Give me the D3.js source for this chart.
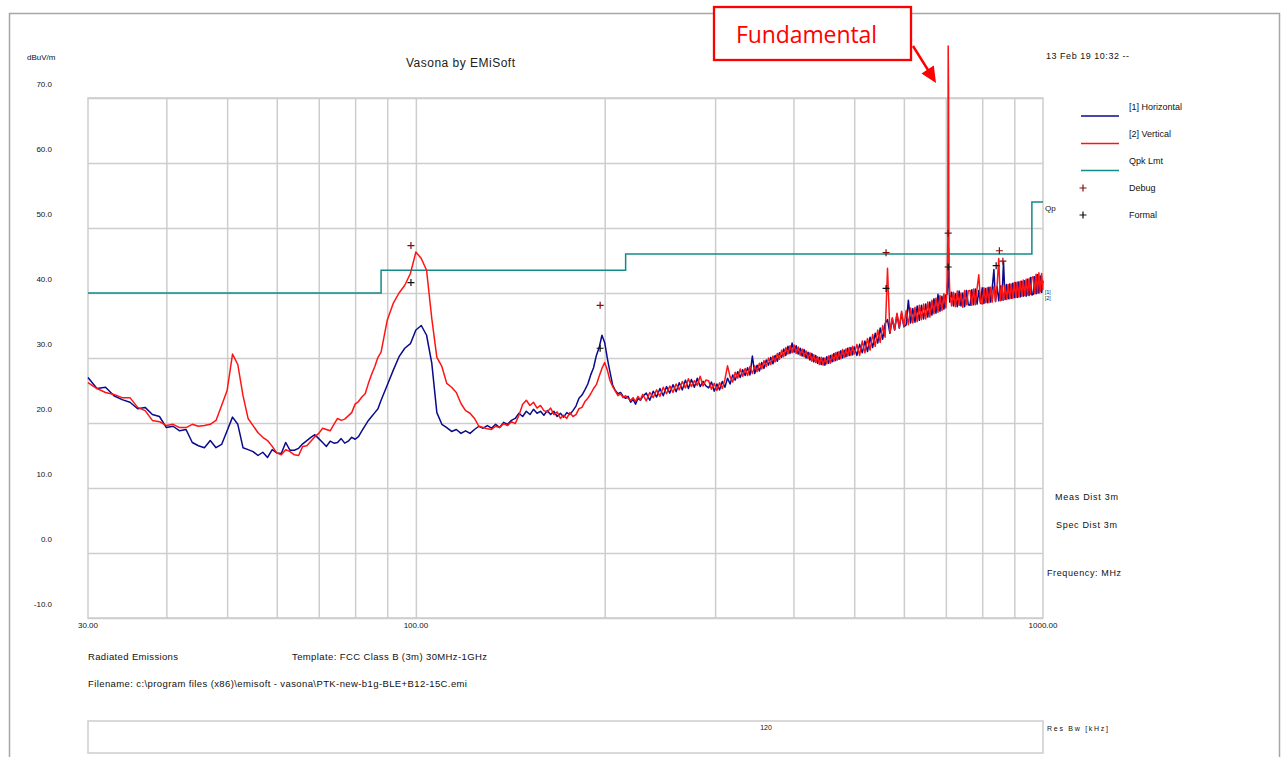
<!DOCTYPE html>
<html><head><meta charset="utf-8">
<script src="https://cdn.jsdelivr.net/npm/d3@7"></script>
<style>
html,body{margin:0;padding:0;background:#fff;}
svg{display:block;font-family:"Liberation Sans",Arial,sans-serif;}
</style></head><body>
<svg id="c" width="1282" height="757"></svg>
<script>
// ---------- data ----------
const freqMHz = [
 30,31,32,33,34,35,36,37,38,39,40,41,42,43,44,45,46,47,48,49,50,51,52,53,54,55,56,57,58,59,
 60,61,62,63,64,65,66,67,68,69,70,71,72,73,74,75,76,77,78,79,80,81,82,83,84,85,86,87,88,
 90,92,94,96,98,100,102,104,106,108,110,112,114,116,118,120,122,124,126,128,130,132,134,136,138,
 140,142,144,146,148,150,152,154,156,158,160,162,164,166,168,170,172,174,176,178,180,182,184,186,188,
 190,192,194,196,198,200,202,204,206,208,210,212,214,216,218,220,222,224,226,228,230,
 233,236,239,242,245,248,251,254,257,260,263,266,269,272,275,278,281,284,287,290,
 293,296,299,302,305,308,311,314,317,320,323,326,329,332,335,338,341,344,347,350,
 353,356,359,362,365,368,371,374,377,380,383,386,389,392,395,398,401,404,407,410,
 413,416,419,422,425,428,431,434,437,440,443,446,449,452,455,458,461,464,467,470,
 473,476,479,482,485,488,491,494,497,500,
 505,510,515,520,525,530,535,540,545,550,555,560,565,570,575,580,585,590,595,600,
 605,610,615,620,625,630,635,640,645,650,655,660,665,670,675,680,685,690,695,700,
 703,705,706,707,708,710,
 715,720,725,730,735,740,745,750,755,760,765,770,775,780,785,790,795,800,805,810,
 815,820,825,830,835,840,845,850,855,860,865,870,875,880,885,890,895,900,905,910,
 915,920,925,930,935,940,945,950,955,960,965,970,975,980,985,990,995,1000
];
const horizontalDb = [
 27.0,25.3,25.5,24.2,23.6,23.2,22.2,22.4,21.3,21.0,19.3,19.5,18.8,19.0,17.0,16.5,16.2,17.3,16.2,16.7,
 18.8,20.9,19.8,16.2,15.9,15.6,15.0,15.5,14.7,15.9,15.4,15.3,17.0,15.8,15.8,16.1,16.8,17.3,17.8,18.2,
 17.6,17.0,16.4,17.2,16.9,17.0,17.6,16.9,17.2,17.8,17.5,17.9,18.8,19.6,20.4,21.0,21.6,22.2,23.5,
 25.8,28.1,30.2,31.5,32.2,34.3,35.0,33.5,29.2,21.6,19.8,19.3,18.7,19.0,18.4,18.8,18.4,19.0,19.5,19.2,
 19.6,19.2,19.8,19.3,20.1,19.8,20.4,20.7,21.5,21.0,21.8,21.3,22.1,21.5,21.8,21.2,21.9,21.3,21.8,21.0,
 21.5,20.9,21.6,21.3,21.9,22.6,23.8,24.3,25.1,26.0,27.4,28.5,30.4,31.6,33.5,32.4,29.9,27.8,25.8,25.0,
 24.5,24.7,24.1,23.8,24.1,23.2,23.6,22.9,23.8,23.5,24.1,
 24.6,23.5,24.9,24.0,25.3,24.2,25.6,24.6,25.9,24.8,26.2,25.1,26.6,25.3,26.7,25.5,26.9,25.6,26.4,25.7,
 25.4,26.3,24.9,26.0,25.1,26.4,25.5,26.9,26.0,27.4,26.6,27.9,27.0,28.2,27.3,28.5,27.4,30.3,27.6,28.9,
 28.0,29.3,28.4,29.7,28.9,30.1,29.1,30.4,29.5,30.8,30.1,31.4,30.4,31.8,30.7,32.3,30.9,31.9,30.6,31.5,
 30.3,31.3,30.0,30.9,29.7,30.7,29.4,30.4,29.2,30.1,29.0,30.0,28.9,30.2,29.2,30.4,29.4,30.7,29.6,30.9,
 29.8,31.1,30.0,31.2,30.2,31.5,30.4,31.6,30.5,31.7,
 30.4,32.1,30.8,32.6,31.0,33.2,31.6,33.8,32.3,34.6,32.9,35.3,35.9,33.8,36.0,34.3,36.7,34.6,36.9,34.8,
 35.1,38.9,35.4,37.6,35.5,38.0,35.8,38.1,36.0,38.3,36.3,38.6,36.6,39.1,36.9,39.8,37.2,39.5,37.5,39.7,
 39.8,42.0,44.0,46.8,41.0,38.6,
 40.1,38.0,39.9,37.9,40.3,38.0,40.0,37.9,40.4,38.2,38.1,40.5,38.2,40.6,38.3,40.4,38.4,40.8,38.4,40.7,
 38.5,40.9,38.6,40.8,43.6,38.7,41.0,38.8,41.1,38.9,44.8,39.0,41.3,39.1,41.4,39.2,41.5,39.3,41.6,39.3,
 41.7,39.4,41.8,39.5,41.9,39.5,42.1,39.6,42.4,39.7,39.8,42.5,39.9,42.8,40.0,42.6,40.1,41.9
];
const verticalDb = [
 26.2,25.3,24.7,24.4,23.9,23.9,22.4,21.9,20.4,20.2,19.6,19.8,19.3,19.3,19.8,19.5,19.6,19.8,20.4,22.7,
 25.0,30.6,29.0,24.2,20.7,19.6,18.5,17.8,17.3,16.4,15.4,15.1,15.9,15.6,15.1,15.0,16.4,16.5,17.2,17.9,
 18.4,19.2,19.0,18.8,19.8,20.7,20.4,20.6,21.1,21.6,22.9,23.3,24.0,24.5,26.1,27.5,28.7,30.1,30.9,
 35.8,38.4,40.0,41.2,43.0,46.3,45.3,43.5,36.1,30.1,28.7,26.1,25.5,24.7,23.0,21.9,21.5,20.7,19.5,19.3,
 19.1,19.0,19.5,19.3,19.9,19.6,20.2,19.9,21.2,22.9,23.5,22.7,23.2,22.3,22.7,21.9,21.7,22.3,21.3,21.7,
 20.7,21.2,20.7,21.6,21.0,21.3,22.2,22.4,23.3,23.8,24.5,25.3,25.9,27.2,28.4,29.3,28.1,26.5,25.6,24.9,
 24.2,24.5,23.9,24.2,23.8,23.5,23.9,23.3,24.1,23.6,24.4,
 23.4,24.7,23.9,25.1,24.1,25.5,24.5,25.7,24.7,26.0,25.1,26.4,25.4,26.8,25.6,26.5,25.8,27.2,25.7,26.6,
 26.5,25.2,26.1,25.0,26.2,25.3,26.7,28.8,27.1,26.3,27.8,26.9,28.3,27.2,28.4,27.3,28.7,27.6,28.8,27.9,
 29.2,28.3,29.6,28.7,30.0,29.0,30.3,29.4,30.7,29.8,31.2,30.2,31.6,30.6,31.9,30.8,32.0,30.7,31.7,30.4,
 31.4,30.2,31.1,29.9,30.8,29.5,30.5,29.3,30.2,29.0,30.1,28.9,30.0,29.1,30.3,29.2,30.5,29.5,30.8,29.7,
 31.0,29.9,31.3,30.1,31.4,30.3,31.6,30.4,31.8,30.6,
 32.1,30.4,32.6,30.8,33.0,31.2,33.6,31.8,34.3,32.4,35.0,33.2,43.8,33.9,36.2,34.4,36.9,34.7,37.2,34.9,
 37.3,35.1,37.7,35.4,37.8,35.6,38.1,35.9,38.3,36.0,38.6,36.3,38.9,36.8,39.2,37.0,39.6,37.3,39.9,37.7,
 40.6,48.0,78.0,71.7,44.0,40.2,
 38.0,40.1,37.9,40.3,38.1,40.0,37.8,40.4,38.2,40.3,40.4,38.1,40.6,38.2,40.7,42.8,38.5,38.3,40.8,38.5,
 40.8,38.5,40.9,38.6,41.0,38.7,41.2,45.3,38.8,41.1,38.9,41.2,39.0,41.3,39.1,41.4,39.2,41.6,39.3,41.7,
 39.4,41.8,39.5,42.0,39.6,42.1,39.7,42.2,39.8,42.4,42.5,39.9,42.9,40.0,43.1,40.2,43.0,40.5
];
const limitFreq = [30, 88, 216, 960, 1000];
const limitDb = [40, 43.5, 46, 54, 54];
const debugFreq = [98.2, 196.7, 562, 706, 852, 863];
const debugDb = [47.3, 38.1, 46.2, 49.2, 46.5, 44.9];
const formalFreq = [98.2, 196.7, 562, 706, 842];
const formalDb = [41.6, 31.5, 40.7, 44.0, 44.2];
const yTicks = [-10, 0, 10, 20, 30, 40, 50, 60, 70];
const yTickLabels = ["-10.0", "0.0", "10.0", "20.0", "30.0", "40.0", "50.0", "60.0", "70.0"];
const xLabelFreq = [30, 100, 1000];
const xTickLabels = ["30.00", "100.00", "1000.00"];
const gridFreq = [40, 50, 60, 70, 80, 90, 100, 200, 300, 400, 500, 600, 700, 800, 900];
const legendNames = ["[1] Horizontal", "[2] Vertical", "Qpk Lmt", "Debug", "Formal"];

// ---------- drawing ----------
const svg = d3.select("#c");
const L = 88, R = 1043, T = 98, B = 618;
const x = d3.scaleLog().domain([30, 1000]).range([L, R]);
const y = d3.scaleLinear().domain([-10, 70]).range([B, T]);
const GRID = "#cdcdcd";

svg.append("rect").attr("x", 9.5).attr("y", 13.5).attr("width", 1270).attr("height", 800)
  .attr("fill", "none").attr("stroke", "#a6a6a6").attr("stroke-width", 1.5);

// grid via axes
const gy = svg.append("g").attr("transform", `translate(${L},0)`)
  .call(d3.axisLeft(y).tickValues(yTicks).tickSize(-(R - L)).tickFormat(""));
const gx = svg.append("g").attr("transform", `translate(0,${B})`)
  .call(d3.axisBottom(x).tickValues(gridFreq).tickSize(-(B - T)).tickFormat(""));
[gy, gx].forEach(g => {
  g.select(".domain").remove();
  g.selectAll("line").attr("stroke", GRID).attr("stroke-width", 1.5);
});
svg.append("rect").attr("x", L).attr("y", T).attr("width", R - L).attr("height", B - T)
  .attr("fill", "none").attr("stroke", GRID).attr("stroke-width", 1.5);

// tick labels
svg.append("g").selectAll("text").data(yTicks).join("text")
  .attr("x", 52).attr("y", d => y(d) - 11).attr("text-anchor", "end")
  .attr("font-size", 8).attr("fill", "#111").text((d, i) => yTickLabels[i]);
svg.append("g").selectAll("text").data(xLabelFreq).join("text")
  .attr("x", d => x(d)).attr("y", 628).attr("text-anchor", "middle")
  .attr("font-size", 8).attr("fill", "#111").text((d, i) => xTickLabels[i]);

// limit
const lim = limitFreq.map((f, i) => [f, limitDb[i]]);
svg.append("path").datum(lim)
  .attr("d", d3.line().x(d => x(d[0])).y(d => y(d[1])).curve(d3.curveStepAfter))
  .attr("fill", "none").attr("stroke", "#138a88").attr("stroke-width", 1.5);

// traces
const line = d3.line().x(d => x(d[0])).y(d => y(d[1]));
const hData = freqMHz.map((f, i) => [f, horizontalDb[i]]);
const vData = freqMHz.map((f, i) => [f, verticalDb[i]]);
svg.append("path").datum(hData).attr("d", line)
  .attr("fill", "none").attr("stroke", "#0a0a8c").attr("stroke-width", 1.5).attr("stroke-linejoin", "round");
svg.append("path").datum(vData).attr("d", line)
  .attr("fill", "none").attr("stroke", "#ff1414").attr("stroke-width", 1.5).attr("stroke-linejoin", "round");

// markers
function plus(g, px, py, col) {
  g.append("path").attr("d", `M${px - 3.5},${py}H${px + 3.5}M${px},${py - 3.5}V${py + 3.5}`)
    .attr("stroke", col).attr("stroke-width", 1.2).attr("fill", "none");
}
const mk = svg.append("g");
debugFreq.forEach((f, i) => plus(mk, x(f), y(debugDb[i]), "#8b0a0a"));
formalFreq.forEach((f, i) => plus(mk, x(f), y(formalDb[i]), "#111"));

// header texts
svg.append("text").attr("x", 27).attr("y", 60).attr("font-size", 8).attr("fill", "#111").text("dBuV/m");
svg.append("text").attr("x", 406).attr("y", 67).attr("font-size", 12).attr("fill", "#222")
  .attr("textLength", 109).text("Vasona by EMiSoft");
svg.append("text").attr("x", 1046).attr("y", 59).attr("font-size", 9).attr("fill", "#111")
  .attr("textLength", 83).text("13 Feb 19 10:32 --");

// legend
const leg = svg.append("g");
const legY = [110, 137, 164, 191, 218];
const legLineY = [116, 143.5, 170.5];
const legCols = ["#0a0a8c", "#ff1414", "#138a88"];
legLineY.forEach((ly, i) => leg.append("line").attr("x1", 1081).attr("x2", 1119).attr("y1", ly).attr("y2", ly)
  .attr("stroke", legCols[i]).attr("stroke-width", 1.5));
plus(leg, 1083, 188, "#8b0a0a");
plus(leg, 1083, 215, "#111");
legendNames.forEach((n, i) => leg.append("text").attr("x", 1129).attr("y", legY[i])
  .attr("font-size", 9).attr("fill", "#111").text(n));

// right side texts
svg.append("text").attr("x", 1045).attr("y", 211).attr("font-size", 8).attr("fill", "#111").text("Qp");
svg.append("text").attr("x", 1045).attr("y", 294).attr("font-size", 5).attr("fill", "#111").text("[1]");
svg.append("text").attr("x", 1045).attr("y", 300).attr("font-size", 5).attr("fill", "#111").text("[2]");
svg.append("text").attr("x", 1055).attr("y", 500).attr("font-size", 9).attr("fill", "#111").attr("textLength", 63).text("Meas Dist 3m");
svg.append("text").attr("x", 1056).attr("y", 528).attr("font-size", 9).attr("fill", "#111").attr("textLength", 61).text("Spec Dist 3m");
svg.append("text").attr("x", 1047).attr("y", 576).attr("font-size", 9).attr("fill", "#111").attr("textLength", 74).text("Frequency: MHz");

// bottom texts
svg.append("text").attr("x", 88).attr("y", 660).attr("font-size", 9.5).attr("fill", "#111").attr("textLength", 90).text("Radiated Emissions");
svg.append("text").attr("x", 292).attr("y", 660).attr("font-size", 9.5).attr("fill", "#111").attr("textLength", 195).text("Template: FCC Class B (3m) 30MHz-1GHz");
svg.append("text").attr("x", 88).attr("y", 687).attr("font-size", 9.5).attr("fill", "#111").attr("textLength", 379).text("Filename: c:\\program files (x86)\\emisoft - vasona\\PTK-new-b1g-BLE+B12-15C.emi");
svg.append("rect").attr("x", L).attr("y", 721).attr("width", R - L).attr("height", 32)
  .attr("fill", "none").attr("stroke", GRID).attr("stroke-width", 1.5);
svg.append("text").attr("x", 766).attr("y", 730).attr("text-anchor", "middle").attr("font-size", 7).attr("fill", "#111").text("120");
svg.append("text").attr("x", 1047).attr("y", 731).attr("font-size", 7).attr("fill", "#111").attr("textLength", 61).text("Res Bw [kHz]");

// annotation
const ann = svg.append("g");
ann.append("rect").attr("x", 714).attr("y", 7).attr("width", 197).attr("height", 53)
  .attr("fill", "#fff").attr("stroke", "#ff0000").attr("stroke-width", 2.3);
ann.append("text").attr("x", 736).attr("y", 43).attr("font-family", "'Open Sans',sans-serif")
  .attr("font-size", 23).attr("fill", "#ff0000").attr("textLength", 141).text("Fundamental");
ann.append("line").attr("x1", 913).attr("y1", 46).attr("x2", 928).attr("y2", 70)
  .attr("stroke", "#ff0000").attr("stroke-width", 2.5);
ann.append("path").attr("d", "M936,83L921.5,73.5L933.8,65.5Z").attr("fill", "#ff0000");
</script>
</body></html>
